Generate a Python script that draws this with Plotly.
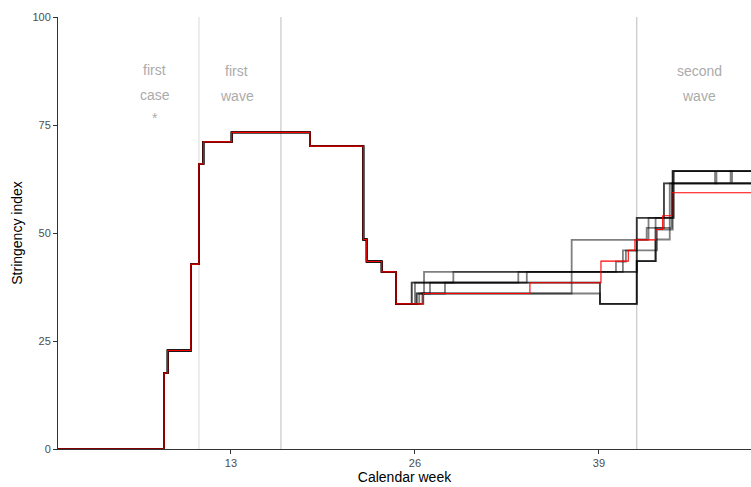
import plotly.graph_objects as go

# ---- data (calendar week, stringency index) ----
common_weeks = [0.78, 8.05, 8.27, 8.53, 10.17, 10.74, 11.05, 13.05, 18.58, 22.35, 22.59, 23.65, 24.66]
common_values = [0.0, 0.0, 17.6, 22.8, 42.8, 66.0, 71.1, 73.3, 70.1, 48.5, 43.4, 41.0, 33.6]

red_weeks = [26.59, 34.12, 39.14, 41.07, 41.54, 43.00, 43.50, 44.14, 50.5]
red_values = [36.0, 38.5, 43.5, 46.0, 48.4, 50.8, 54.0, 59.3, 59.3]

s1_weeks = [25.77, 26.64, 41.67, 43.00, 44.21, 50.5]
s1_values = [38.5, 41.0, 43.5, 53.5, 64.3, 64.3]
s2_weeks = [25.77, 28.71, 41.67, 42.37, 43.59, 50.5]
s2_values = [38.5, 41.0, 48.5, 51.2, 61.5, 61.5]
s3_weeks = [26.12, 26.64, 33.30, 40.69, 41.67, 42.50, 44.21, 50.5]
s3_values = [36.0, 38.5, 41.0, 46.0, 48.4, 53.5, 64.3, 64.3]
s4_weeks = [26.12, 27.06, 39.07, 41.67, 43.00, 44.14, 50.5]
s4_values = [36.0, 38.5, 33.6, 43.5, 51.2, 61.5, 61.5]
s5_weeks = [26.30, 28.12, 39.07, 41.67, 43.10, 44.21, 47.20, 47.30, 50.5]
s5_values = [36.0, 38.5, 33.6, 46.0, 50.8, 64.3, 61.5, 64.3, 64.3]
s6_weeks = [26.59, 37.07, 41.67, 43.59, 50.5]
s6_values = [36.0, 48.4, 53.5, 61.5, 61.5]
s7_weeks = [26.52, 39.07, 41.67, 43.00, 44.00, 48.30, 48.40, 50.5]
s7_values = [36.0, 33.6, 43.5, 48.5, 61.5, 64.3, 61.5, 61.5]
s8_weeks = [26.00, 33.90, 40.20, 40.90, 41.67, 44.30, 50.5]
s8_values = [38.5, 41.0, 43.4, 45.9, 53.5, 64.3, 64.3]

other_weeks = [s1_weeks, s2_weeks, s3_weeks, s4_weeks, s5_weeks, s6_weeks, s7_weeks, s8_weeks]
other_values = [s1_values, s2_values, s3_values, s4_values, s5_values, s6_values, s7_values, s8_values]

x_ticks = [13, 26, 39]
y_ticks = [0, 25, 50, 75, 100]
event_weeks = [10.74, 16.53, 41.67]
event_colors = ["#d9d9d9", "#bdbdbd", "#bdbdbd"]

fig = go.Figure()

for wk, vals in zip(other_weeks, other_values):
    fig.add_trace(go.Scatter(
        x=common_weeks + wk, y=common_values + vals, mode="lines",
        line=dict(color="rgba(0,0,0,0.5)", width=1.8, shape="hv"),
        showlegend=False, hoverinfo="skip"))

fig.add_trace(go.Scatter(
    x=common_weeks + red_weeks, y=common_values + red_values, mode="lines",
    line=dict(color="#ff0000", width=1.1, shape="hv"),
    showlegend=False, hoverinfo="skip"))

for w, c in zip(event_weeks, event_colors):
    fig.add_shape(type="line", x0=w, x1=w, y0=0, y1=100, xref="x", yref="y",
                  line=dict(color=c, width=1), layer="below")

ann_font = dict(family="Liberation Sans, Arial, sans-serif", size=14, color="#ababab")
labels = [
    (7.63, 87.7, "first"), (7.63, 81.9, "case"), (7.63, 76.6, "*"),
    (13.4, 87.5, "first"), (13.4, 81.6, "wave"),
    (46.1, 87.5, "second"), (46.1, 81.6, "wave"),
]
for x, y, t in labels:
    fig.add_annotation(x=x, y=y, text=t, showarrow=False, font=ann_font,
                       xref="x", yref="y")

axis_common = dict(
    showgrid=False, zeroline=False, showline=True, linecolor="#333333", linewidth=1,
    ticks="outside", ticklen=4, tickcolor="#333333", tickwidth=1,
    tickfont=dict(family="Liberation Sans, Arial, sans-serif", size=11, color="#4d4d4d"),
)

fig.update_layout(
    width=751, height=487,
    margin=dict(l=58, r=0, t=17, b=38),
    plot_bgcolor="white", paper_bgcolor="white",
    font=dict(family="Liberation Sans, Arial, sans-serif"),
    xaxis=dict(range=[0.78, 49.74], tickvals=x_ticks, automargin=False,
               title=dict(text="Calendar week", font=dict(size=14, color="black"), standoff=3),
               **axis_common),
    yaxis=dict(range=[0, 100], tickvals=y_ticks, automargin=False,
               title=dict(text="Stringency index", font=dict(size=14, color="black"), standoff=6),
               **axis_common),
)

fig.write_html("out.html", config={"displayModeBar": False},
               post_script="document.body.style.margin='0px';document.body.style.overflow='hidden';")
